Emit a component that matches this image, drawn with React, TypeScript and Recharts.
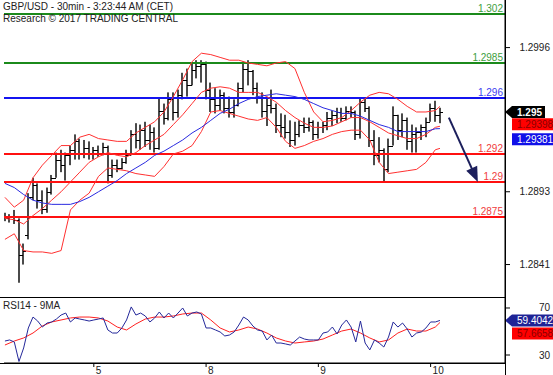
import { Bar, ComposedChart, Line, ReferenceLine, XAxis, YAxis } from 'recharts'

const FONT = '"Liberation Sans", Arial, sans-serif'

// hourly bars, day 4 05:00 -> day 10 03:00
const highs = [
  1.2878, 1.2877, 1.2880, 1.2874, 1.2856, 1.2892, 1.2903, 1.2899, 1.2894, 1.2896,
  1.2905, 1.2921, 1.2923, 1.2921, 1.2926, 1.2934, 1.2931, 1.2930, 1.2929, 1.2925,
  1.2926, 1.2928, 1.2926, 1.2916, 1.2916, 1.2917, 1.2923, 1.2937, 1.2942, 1.2941,
  1.2943, 1.2941, 1.2939, 1.2960, 1.2956, 1.2964, 1.2964, 1.2966, 1.2978, 1.2981,
  1.2985, 1.2987, 1.2987, 1.2986, 1.2971, 1.2967, 1.2966, 1.2964, 1.2961, 1.2959,
  1.2971, 1.2986, 1.2987, 1.2980, 1.2971, 1.2964, 1.2960, 1.2966, 1.2956, 1.2949,
  1.2948, 1.2944, 1.2943, 1.2944, 1.2946, 1.2946, 1.2944, 1.2943, 1.2943, 1.2950,
  1.2951, 1.2953, 1.2953, 1.2954, 1.2954, 1.2951, 1.2960, 1.2960, 1.2954, 1.2937,
  1.2932, 1.2924, 1.2931, 1.2954, 1.2948, 1.2949, 1.2946, 1.2941, 1.2939, 1.2941,
  1.2946, 1.2956, 1.2958, 1.2953,
]
const lows = [
  1.2872, 1.2871, 1.2870, 1.2828, 1.2841, 1.2859, 1.2887, 1.2881, 1.2877, 1.2878,
  1.2891, 1.2903, 1.2907, 1.2901, 1.2912, 1.2916, 1.2916, 1.2917, 1.2916, 1.2916,
  1.2918, 1.2919, 1.2899, 1.2903, 1.2907, 1.2909, 1.2913, 1.2919, 1.2924, 1.2923,
  1.2925, 1.2923, 1.2921, 1.2923, 1.2941, 1.2944, 1.2944, 1.2946, 1.2959, 1.2961,
  1.2969, 1.2974, 1.2971, 1.2959, 1.2950, 1.2949, 1.2951, 1.2949, 1.2946, 1.2946,
  1.2954, 1.2964, 1.2969, 1.2962, 1.2956, 1.2946, 1.2940, 1.2949, 1.2935, 1.2932,
  1.2931, 1.2925, 1.2926, 1.2932, 1.2935, 1.2936, 1.2930, 1.2931, 1.2935, 1.2937,
  1.2940, 1.2942, 1.2943, 1.2944, 1.2946, 1.2930, 1.2931, 1.2950, 1.2925, 1.2912,
  1.2914, 1.2900, 1.2907, 1.2926, 1.2930, 1.2932, 1.2923, 1.2921, 1.2921, 1.2930,
  1.2932, 1.2943, 1.2943, 1.2942,
]
const opens = [
  1.2876, 1.2874, 1.2875, 1.2873, 1.2848, 1.2862, 1.2889, 1.2898, 1.2887, 1.2881,
  1.2893, 1.2903, 1.2916, 1.2912, 1.2919, 1.2923, 1.2929, 1.2921, 1.2924, 1.2921,
  1.2923, 1.2921, 1.2925, 1.2905, 1.2912, 1.2910, 1.2914, 1.2919, 1.2934, 1.2930,
  1.2937, 1.2930, 1.2936, 1.2924, 1.2951, 1.2946, 1.2959, 1.2950, 1.2962, 1.2973,
  1.2969, 1.2980, 1.2983, 1.2984, 1.2966, 1.2959, 1.2955, 1.2962, 1.2953, 1.2950,
  1.2955, 1.2967, 1.2981, 1.2979, 1.2967, 1.2960, 1.2951, 1.2955, 1.2953, 1.2941,
  1.2939, 1.2936, 1.2930, 1.2934, 1.2941, 1.2939, 1.2943, 1.2934, 1.2939, 1.2941,
  1.2946, 1.2948, 1.2950, 1.2946, 1.2951, 1.2950, 1.2934, 1.2957, 1.2953, 1.2930,
  1.2919, 1.2923, 1.2909, 1.2926, 1.2948, 1.2937, 1.2944, 1.2929, 1.2934, 1.2936,
  1.2939, 1.2943, 1.2953, 1.2948,
]
const closes = [
  1.2874, 1.2875, 1.2873, 1.2848, 1.2851, 1.2889, 1.2898, 1.2887, 1.2881, 1.2893,
  1.2903, 1.2916, 1.2912, 1.2919, 1.2923, 1.2929, 1.2921, 1.2924, 1.2921, 1.2923,
  1.2921, 1.2925, 1.2905, 1.2912, 1.2910, 1.2914, 1.2919, 1.2934, 1.2930, 1.2937,
  1.2930, 1.2936, 1.2924, 1.2951, 1.2946, 1.2959, 1.2950, 1.2962, 1.2973, 1.2969,
  1.2980, 1.2983, 1.2984, 1.2966, 1.2959, 1.2955, 1.2962, 1.2953, 1.2950, 1.2955,
  1.2967, 1.2981, 1.2979, 1.2967, 1.2960, 1.2951, 1.2955, 1.2953, 1.2941, 1.2939,
  1.2936, 1.2930, 1.2934, 1.2941, 1.2939, 1.2943, 1.2934, 1.2939, 1.2941, 1.2946,
  1.2948, 1.2950, 1.2946, 1.2951, 1.2950, 1.2934, 1.2957, 1.2953, 1.2930, 1.2919,
  1.2923, 1.2909, 1.2926, 1.2948, 1.2937, 1.2944, 1.2929, 1.2934, 1.2936, 1.2939,
  1.2943, 1.2953, 1.2948, 1.2950,
]

// bands / averages read every 2nd bar, plus the last bar
const upperBand = [
  1.2889, 1.2882, 1.2887, 1.2903, 1.2912, 1.2919, 1.2926, 1.2926, 1.2932, 1.2934,
  1.2931, 1.2930, 1.2929, 1.2929, 1.2935, 1.2939, 1.2943, 1.2950, 1.2961, 1.2973,
  1.2986, 1.2992, 1.2991, 1.2989, 1.2987, 1.2987, 1.2985, 1.2984, 1.2983, 1.2985,
  1.2986, 1.2981, 1.2964, 1.2950, 1.2943, 1.2944, 1.2946, 1.2951, 1.2957, 1.2962,
  1.2964, 1.2963, 1.2959, 1.2954, 1.2950, 1.2950, 1.2951, 1.2954,
]
const middleBand = [
  1.2874, 1.2873, 1.2870, 1.2876, 1.2881, 1.2887, 1.2893, 1.2900, 1.2907, 1.2914,
  1.2918, 1.2921, 1.2919, 1.2918, 1.2921, 1.2926, 1.2930, 1.2934, 1.2941, 1.2948,
  1.2956, 1.2964, 1.2967, 1.2968, 1.2967, 1.2964, 1.2964, 1.2964, 1.2961, 1.2957,
  1.2951, 1.2946, 1.2942, 1.2939, 1.2939, 1.2940, 1.2943, 1.2946, 1.2946, 1.2943,
  1.2939, 1.2935, 1.2933, 1.2931, 1.2931, 1.2934, 1.2939, 1.29398,
]
const lowerBand = [
  1.2859, 1.2863, 1.2851, 1.2850, 1.2850, 1.2849, 1.2851, 1.2880, 1.2887, 1.2892,
  1.2904, 1.2910, 1.2909, 1.2908, 1.2906, 1.2905, 1.2904, 1.2911, 1.2920, 1.2922,
  1.2926, 1.2936, 1.2950, 1.2951, 1.2949, 1.2947, 1.2945, 1.2944, 1.2946, 1.2939,
  1.2929, 1.2924, 1.2926, 1.2929, 1.2931, 1.2934, 1.2936, 1.2937, 1.2937, 1.2930,
  1.2914, 1.2906, 1.2907, 1.2908, 1.2909, 1.2914, 1.2923, 1.2924,
]
const slowMa = [
  1.2899, 1.2896, 1.2891, 1.2887, 1.2885, 1.2884, 1.2884, 1.2884, 1.2886, 1.2889,
  1.2893, 1.2897, 1.2901, 1.2906, 1.2910, 1.2914, 1.2919, 1.2922, 1.2926, 1.2930,
  1.2935, 1.2939, 1.2944, 1.2949, 1.2952, 1.2956, 1.2959, 1.2961, 1.2962, 1.2963,
  1.2962, 1.2961, 1.2959, 1.2956, 1.2953, 1.2951, 1.2949, 1.2949, 1.2947, 1.2944,
  1.2941, 1.2939, 1.2936, 1.2936, 1.2936, 1.2936, 1.2938, 1.29381,
]

const rsi = [
  41.9, 42.8, 41.1, 24.5, 36.0, 53.0, 62.3, 58.9, 53.8, 57.2,
  58.1, 60.6, 64.0, 65.7, 58.1, 61.5, 60.6, 59.8, 58.9, 59.8,
  60.6, 61.5, 51.3, 48.7, 48.7, 53.0, 59.8, 70.9, 64.0, 65.7,
  63.2, 58.1, 61.5, 66.6, 61.5, 65.7, 61.5, 65.7, 70.0, 63.2,
  65.7, 66.6, 64.9, 53.0, 53.0, 51.3, 49.6, 46.2, 47.0, 49.6,
  55.5, 62.3, 59.8, 54.7, 51.3, 50.4, 42.8, 47.0, 40.2, 40.2,
  39.4, 38.5, 41.9, 45.3, 43.6, 42.8, 42.8, 42.8, 48.7, 49.6,
  53.8, 47.9, 55.5, 59.8, 53.8, 41.1, 58.9, 40.2, 34.3, 42.8,
  40.2, 36.8, 45.3, 58.1, 53.8, 57.2, 52.1, 45.3, 48.7, 49.6,
  53.0, 58.1, 58.1, 59.4042,
]
const rsiMa = [
  38.5, 41.9, 44.5, 48.7, 54.7, 58.1, 59.8, 61.5, 62.3, 62.3,
  61.5, 58.9, 53.8, 51.3, 56.4, 60.6, 62.3, 62.3, 63.2, 64.9,
  65.7, 65.7, 59.8, 53.0, 49.6, 51.3, 53.8, 52.1, 48.7, 44.5,
  41.9, 40.2, 41.1, 41.9, 43.6, 47.0, 50.4, 52.1, 48.7, 44.5,
  41.1, 42.8, 48.7, 52.1, 50.4, 50.4, 53.8, 57.6658,
]

const DAY_TICKS = [19, 43, 67, 91]
const DAY_LABELS = ['5', '8', '9', '10']
const PRICE_TICKS = [1.2841, 1.2893, 1.2996]
const RSI_TICKS = [30, 70]

const levelValues = [1.302, 1.2985, 1.296, 1.292, 1.29, 1.2875]
const levelLine = ['#1b8a1b', '#1b8a1b', '#1414f0', '#ff1010', '#ff1010', '#ff1010']
const levelText = ['#3d9e3d', '#3d9e3d', '#3c3cf0', '#f03c3c', '#f03c3c', '#f03c3c']

const X_DOMAIN = [-0.2, 106.9]
const PRICE_DOMAIN = [1.28171, 1.303]
const RSI_DOMAIN = [23.2, 78.5]

const bandIdx = [...Array.from({ length: 47 }, (_, k) => k * 2), 93]

const priceData = highs.map((h, i) => ({
  i,
  high: h,
  low: lows[i],
  open: opens[i],
  close: closes[i],
  upper: null as number | null,
  middle: null as number | null,
  lower: null as number | null,
  ma: null as number | null,
}))
bandIdx.forEach((idx, k) => {
  priceData[idx].upper = upperBand[k]
  priceData[idx].middle = middleBand[k]
  priceData[idx].lower = lowerBand[k]
  priceData[idx].ma = slowMa[k]
})

const rsiData = rsi.map((v, i) => ({ i, rsi: v, rsiMa: null as number | null }))
bandIdx.forEach((idx, k) => {
  rsiData[idx].rsiMa = rsiMa[k]
})

const last = <T,>(arr: T[]) => arr[arr.length - 1]

function OhlcBar(props: any) {
  const { x, y, width, height, payload } = props
  if (!payload || payload.high == null) return null
  const top = Math.min(y, y + height)
  const h = Math.abs(height)
  const range = payload.high - payload.low
  const k = range > 0 ? h / range : 0
  const cx = Math.round(x + width / 2)
  const oy = Math.round(top + (payload.high - payload.open) * k) + 0.5
  const cy = Math.round(top + (payload.high - payload.close) * k) + 0.5
  return (
    <g>
      <rect x={cx - 1} y={top} width={2} height={Math.max(h, 1)} fill="#4a4a4a" />
      <line x1={cx - 3} x2={cx} y1={oy} y2={oy} stroke="#000" />
      <line x1={cx} x2={cx + 3} y1={cy} y2={cy} stroke="#000" />
    </g>
  )
}

function SideTick(props: any) {
  const { x, y, payload } = props
  return (
    <text x={x + 38} y={y} dy={3.5} textAnchor="end" fontSize={10} fill="#222">
      {payload.value}
    </text>
  )
}

function DayTick(props: any) {
  const { x, y, payload } = props
  const label = DAY_LABELS[DAY_TICKS.indexOf(payload.value)]
  return (
    <g>
      <line x1={x} x2={x} y1={y} y2={y + 4} stroke="#000" />
      <text x={x + 2} y={y + 11} fontSize={10} fill="#222">
        {label}
      </text>
    </g>
  )
}

function Badge(props: any) {
  const { viewBox, text, bg, fg, shift = 0, pointer = false, w = 48, bold = false } = props
  if (!viewBox) return null
  const left = viewBox.x + viewBox.width
  const cy = viewBox.y + shift
  const top = cy - 6
  const bot = cy + 6
  const d = pointer
    ? `M${left},${cy} L${left + 7},${top} L${left + w},${top} L${left + w},${bot} L${left + 7},${bot} Z`
    : `M${left + 7},${top} L${left + w},${top} L${left + w},${bot} L${left + 7},${bot} Z`
  return (
    <g>
      <path d={d} fill={bg} />
      <text x={left + 12} y={cy + 3.6} fontSize={10} fontWeight={bold ? 700 : 400} fill={fg}>
        {text}
      </text>
    </g>
  )
}

function ArrowShape(props: any) {
  const x1 = Number(props.x1)
  const y1 = Number(props.y1)
  const x2 = Number(props.x2)
  const y2 = Number(props.y2)
  const len = Math.hypot(x2 - x1, y2 - y1) || 1
  const ux = (x2 - x1) / len
  const uy = (y2 - y1) / len
  const bx = x2 - ux * 15
  const by = y2 - uy * 15
  const nx = -uy * 6
  const ny = ux * 6
  return (
    <g>
      <line x1={x1} y1={y1} x2={x2 - ux * 10} y2={y2 - uy * 10} stroke="#1c1f5c" strokeWidth={2} />
      <polygon points={`${x2},${y2} ${bx + nx},${by + ny} ${bx - nx},${by - ny}`} fill="#1c1f5c" />
    </g>
  )
}

export default function App() {
  return (
    <div
      style={{
        position: 'absolute',
        left: 0,
        top: 0,
        width: 553,
        height: 375,
        background: '#fff',
        overflow: 'hidden',
        fontFamily: FONT,
      }}
    >
      <div style={{ position: 'absolute', left: 0, top: 0 }}>
        <ComposedChart width={553} height={298} data={priceData} margin={{ top: 0, right: 0, bottom: 0, left: 4 }}>
          <XAxis type="number" dataKey="i" domain={X_DOMAIN} hide allowDataOverflow />
          <YAxis
            orientation="right"
            type="number"
            domain={PRICE_DOMAIN}
            ticks={PRICE_TICKS}
            width={48}
            allowDataOverflow
            axisLine={{ stroke: '#000' }}
            tickLine={{ stroke: '#000' }}
            tickSize={5}
            tick={<SideTick />}
          />
          {levelValues.map((v, k) => (
            <ReferenceLine
              key={v}
              y={v}
              stroke={levelLine[k]}
              strokeWidth={2}
              label={{ value: String(v), position: 'insideBottomRight', offset: 2, fill: levelText[k], fontSize: 10 }}
            />
          ))}
          <Line dataKey="upper" stroke="#ff3030" strokeWidth={1} dot={false} connectNulls isAnimationActive={false} />
          <Line dataKey="middle" stroke="#ff3030" strokeWidth={1} dot={false} connectNulls isAnimationActive={false} />
          <Line dataKey="lower" stroke="#ff3030" strokeWidth={1} dot={false} connectNulls isAnimationActive={false} />
          <Line dataKey="ma" stroke="#2a2ae0" strokeWidth={1} dot={false} connectNulls isAnimationActive={false} />
          <Bar
            dataKey={(d: any) => [d.low, d.high]}
            shape={<OhlcBar />}
            barSize={4}
            isAnimationActive={false}
          />
          <ReferenceLine
            segment={[
              { x: 94.9, y: 1.2946 },
              { x: 101.1, y: 1.29 },
            ]}
            ifOverflow="visible"
            shape={ArrowShape}
          />
          <ReferenceLine
            y={last(closes)}
            stroke="none"
            label={<Badge text={String(last(closes))} bg="#000" fg="#fff" pointer w={40} bold />}
          />
          <ReferenceLine
            y={last(middleBand)}
            stroke="none"
            label={<Badge text={String(last(middleBand))} bg="#ff0000" fg="#8a0000" shift={-2} />}
          />
          <ReferenceLine
            y={last(slowMa)}
            stroke="none"
            label={<Badge text={String(last(slowMa))} bg="#1010e8" fg="#fff" shift={10.5} />}
          />
        </ComposedChart>
      </div>

      <div style={{ position: 'absolute', left: 0, top: 298 }}>
        <ComposedChart width={553} height={77} data={rsiData} margin={{ top: 0, right: 0, bottom: 0, left: 4 }}>
          <XAxis
            type="number"
            dataKey="i"
            domain={X_DOMAIN}
            ticks={DAY_TICKS}
            interval={0}
            allowDataOverflow
            height={12}
            axisLine={{ stroke: '#000' }}
            tickLine={false}
            tickSize={0}
            tickMargin={0}
            tick={<DayTick />}
          />
          <YAxis
            orientation="right"
            type="number"
            domain={RSI_DOMAIN}
            ticks={RSI_TICKS}
            width={48}
            allowDataOverflow
            axisLine={{ stroke: '#000' }}
            tickLine={{ stroke: '#000' }}
            tickSize={5}
            tick={<SideTick />}
          />
          <Line dataKey="rsiMa" stroke="#ff2020" strokeWidth={1} dot={false} connectNulls isAnimationActive={false} />
          <Line dataKey="rsi" stroke="#24289a" strokeWidth={1} dot={false} isAnimationActive={false} />
          <ReferenceLine
            y={last(rsi)}
            stroke="none"
            label={<Badge text={String(last(rsi))} bg="#1e2396" fg="#fff" pointer w={48} />}
          />
          <ReferenceLine
            y={last(rsiMa)}
            stroke="none"
            label={<Badge text={String(last(rsiMa))} bg="#ff0000" fg="#8a0000" shift={11} />}
          />
        </ComposedChart>
      </div>

      <div style={{ position: 'absolute', left: 0, top: 297, width: 505, height: 1, background: '#000' }} />
      <div style={{ position: 'absolute', left: 0, top: 363, width: 505, height: 1, background: '#000' }} />
      <div style={{ position: 'absolute', left: 505, top: 0, width: 1, height: 375, background: '#000' }} />

      <div
        style={{
          position: 'absolute',
          left: 3,
          top: 1,
          fontSize: 10,
          lineHeight: '11.5px',
          color: '#222',
          whiteSpace: 'nowrap',
        }}
      >
        <div>GBP/USD - 30min - 3:23:44 AM (CET)</div>
        <div>Research © 2017 TRADING CENTRAL</div>
      </div>
      <div style={{ position: 'absolute', left: 3, top: 300, fontSize: 10, lineHeight: '12px', color: '#222' }}>
        RSI14 - 9MA
      </div>
    </div>
  )
}
